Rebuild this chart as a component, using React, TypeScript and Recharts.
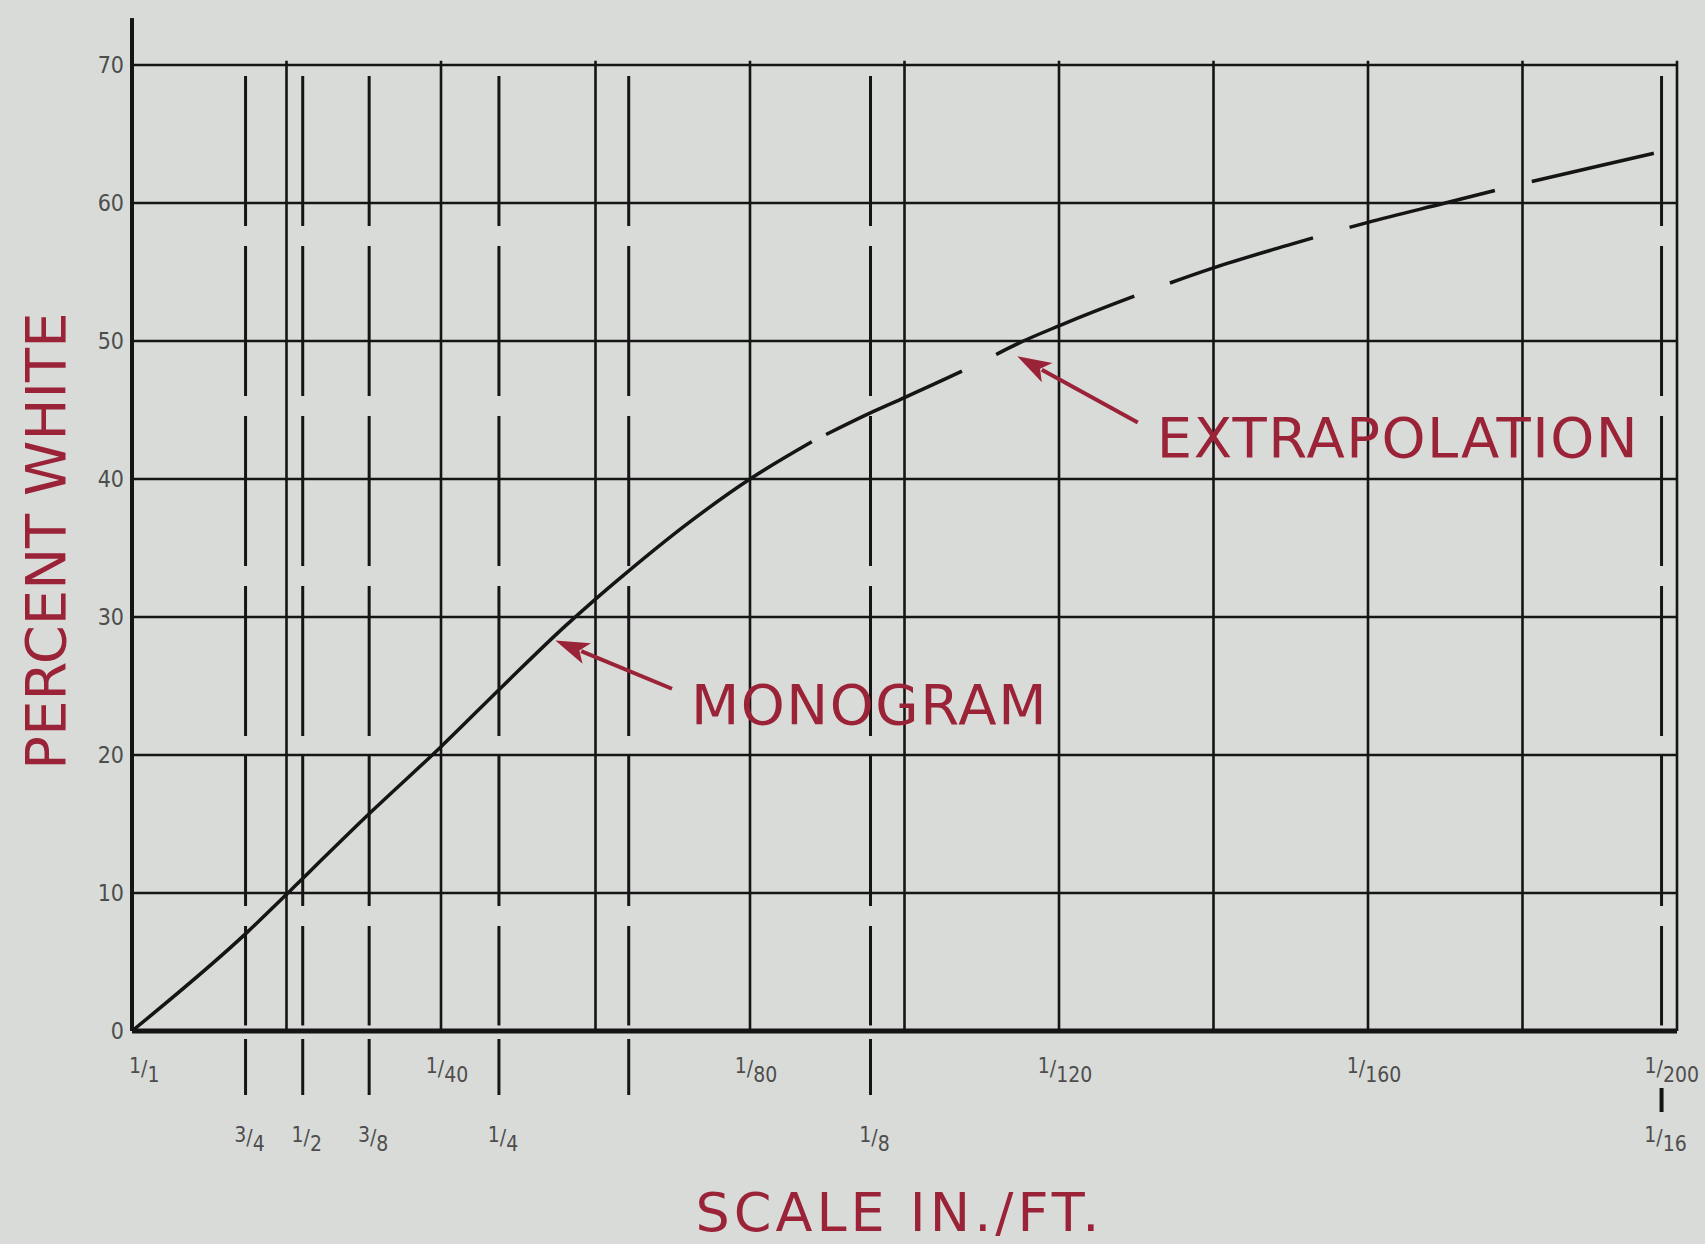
import { CartesianGrid, Line, LineChart, ReferenceLine, XAxis, YAxis } from "recharts";

// ratio scale ticks (1/N) along the bottom
const RATIO_TICKS = [0, 40, 80, 120, 160, 200];
const RATIO_DENOMS = ["1", "40", "80", "120", "160", "200"];
const GRID_X = [20, 40, 60, 80, 100, 120, 140, 160, 180, 200];
const PERCENT_TICKS = [0, 10, 20, 30, 40, 50, 60, 70];

// architectural scales (in./ft.) drawn as dashed verticals
const INCH_POS = [14.7, 22.1, 30.7, 47.5, 64.3, 95.6, 198];
const INCH_NUMS = ["3", "1", "3", "1", "", "1", "1"];
const INCH_DENS = ["4", "2", "8", "4", "", "8", "16"];

// measured curve (solid) and extrapolated part (dashed)
const MONO_X = [0, 15, 20, 22, 31, 40, 48, 56, 60, 64, 72, 80, 88];
const MONO_Y = [0, 7.2, 9.9, 11.0, 15.9, 20.6, 25.0, 29.3, 31.3, 33.2, 36.8, 40, 42.7];
const EXTRAP_X = [88, 96, 100, 110, 115, 120, 130, 140, 150, 160, 170, 180, 190, 197];
const EXTRAP_Y = [42.7, 44.9, 45.9, 48.5, 49.9, 51.1, 53.3, 55.3, 57.0, 58.6, 60.0, 61.4, 62.7, 63.6];

// annotation arrows: tail -> tip, in data units
const MONO_ARROW = [{ x: 69.9, y: 24.8 }, { x: 54.8, y: 28.3 }];
const EXTRAP_ARROW = [{ x: 130.2, y: 44.1 }, { x: 114.6, y: 48.9 }];

const INK = "#151515";
const RED = "#9a2338";
const GRAY = "#4d4d4d";
const TITLE_FONT = "'DejaVu Sans', sans-serif";
const NUM_FONT = "'Liberation Sans Narrow', 'DejaVu Sans Condensed', 'DejaVu Sans', sans-serif";

const monoData = MONO_X.map((x, i) => ({ x, y: MONO_Y[i] }));
const extrapData = EXTRAP_X.map((x, i) => ({ x, y: EXTRAP_Y[i] }));
const allTicks = [...RATIO_TICKS, ...INCH_POS].sort((a, b) => a - b);

function Frac({ x, y, num, den, anchor }: { x: number; y: number; num: string; den: string; anchor: string }) {
  return (
    <text x={x} y={y} textAnchor={anchor} fontSize={21} fontFamily={NUM_FONT} fill={GRAY}>
      <tspan>{num}</tspan>
      <tspan dy={3}>/</tspan>
      <tspan dy={6}>{den}</tspan>
    </text>
  );
}

function ScaleTick(props: any) {
  const { x, y, payload } = props;
  const v = payload.value;
  const ri = RATIO_TICKS.indexOf(v);
  if (ri >= 0) {
    if (v === 0) return <Frac x={x - 3} y={y + 42} num="1" den={RATIO_DENOMS[ri]} anchor="start" />;
    if (v === 200) return <Frac x={x + 22} y={y + 42} num="1" den={RATIO_DENOMS[ri]} anchor="end" />;
    return <Frac x={x + 6} y={y + 42} num="1" den={RATIO_DENOMS[ri]} anchor="middle" />;
  }
  const ii = INCH_POS.indexOf(v);
  if (ii < 0) return null;
  const last = v > 190;
  return (
    <g>
      <line x1={x} x2={x} y1={y + (last ? 57 : 8)} y2={y + (last ? 81 : 64)} stroke={INK} strokeWidth={last ? 4 : 3} />
      {INCH_NUMS[ii] && <Frac x={x + 4} y={y + 111} num={INCH_NUMS[ii]} den={INCH_DENS[ii]} anchor="middle" />}
    </g>
  );
}

const arrowShape = (text: string) => (props: any) => {
  const { x1, y1, x2, y2 } = props;
  const a = Math.atan2(y2 - y1, x2 - x1);
  const c = Math.cos(a);
  const s = Math.sin(a);
  const bx = x2 - 34 * c;
  const by = y2 - 34 * s;
  const pts = [
    [x2, y2],
    [bx + 11 * s, by - 11 * c],
    [bx + 8 * c, by + 8 * s],
    [bx - 11 * s, by + 11 * c],
  ];
  return (
    <g>
      <line x1={x1} y1={y1} x2={bx + 6 * c} y2={by + 6 * s} stroke={RED} strokeWidth={4} />
      <polygon points={pts.map((p) => p.join(",")).join(" ")} fill={RED} />
      <text x={x1 + 19} y={y1 + 35} fontSize={56} letterSpacing={1.5} fontFamily={TITLE_FONT} fill={RED}>
        {text}
      </text>
    </g>
  );
};

export default function App() {
  return (
    <div
      style={{
        position: "absolute",
        left: 0,
        top: 0,
        width: 1705,
        height: 1244,
        background: "#d9dbd8",
        overflow: "hidden",
      }}
    >
      <LineChart width={1705} height={1244} margin={{ top: 65, right: 28, left: 72, bottom: 183 }}>
        <CartesianGrid vertical={false} stroke={INK} strokeWidth={2.6} />
        <XAxis
          type="number"
          dataKey="x"
          domain={[0, 200]}
          ticks={allTicks}
          interval={0}
          height={30}
          tickLine={false}
          tickSize={0}
          tickMargin={0}
          axisLine={{ stroke: INK, strokeWidth: 5 }}
          tick={<ScaleTick />}
          label={{
            content: ({ viewBox }: any) => (
              <text
                x={viewBox.x + viewBox.width / 2 - 5}
                y={viewBox.y + 200}
                textAnchor="middle"
                fontSize={54}
                letterSpacing={4}
                fontFamily={TITLE_FONT}
                fill={RED}
              >
                SCALE IN./FT.
              </text>
            ),
          }}
        />
        <YAxis
          type="number"
          domain={[0, 70]}
          ticks={PERCENT_TICKS}
          interval={0}
          width={60}
          tickLine={false}
          tickSize={0}
          tickMargin={8}
          axisLine={{ stroke: INK, strokeWidth: 4 }}
          tick={{ fill: GRAY, fontSize: 23, fontFamily: NUM_FONT }}
          label={{
            content: ({ viewBox }: any) => (
              <text
                transform={`translate(${viewBox.x - 7},${viewBox.y + viewBox.height / 2 - 7}) rotate(-90)`}
                textAnchor="middle"
                fontSize={56}
                fontFamily={TITLE_FONT}
                fill={RED}
              >
                PERCENT WHITE
              </text>
            ),
          }}
        />

        {/* axis line runs a little past the 70 grid line */}
        <ReferenceLine
          segment={[{ x: 0, y: 70 }, { x: 0, y: 73.4 }]}
          stroke={INK}
          strokeWidth={4}
          ifOverflow="visible"
        />

        {GRID_X.map((v) => (
          <ReferenceLine
            key={`g${v}`}
            segment={[{ x: v, y: 0 }, { x: v, y: 70.3 }]}
            stroke={INK}
            strokeWidth={2.6}
            ifOverflow="visible"
          />
        ))}

        {INCH_POS.map((v) => (
          <ReferenceLine
            key={`i${v}`}
            segment={[{ x: v, y: 69.2 }, { x: v, y: 0.4 }]}
            stroke={INK}
            strokeWidth={3}
            strokeDasharray="150 20"
            ifOverflow="visible"
          />
        ))}

        <Line
          data={monoData}
          dataKey="y"
          type="monotone"
          stroke={INK}
          strokeWidth={3.5}
          dot={false}
          activeDot={false}
          isAnimationActive={false}
        />
        <Line
          data={extrapData}
          dataKey="y"
          type="monotone"
          stroke={INK}
          strokeWidth={3.5}
          strokeDasharray="0 16 150 22"
          dot={false}
          activeDot={false}
          isAnimationActive={false}
        />

        <ReferenceLine segment={MONO_ARROW} ifOverflow="visible" shape={arrowShape("MONOGRAM")} />
        <ReferenceLine segment={EXTRAP_ARROW} ifOverflow="visible" shape={arrowShape("EXTRAPOLATION")} />
      </LineChart>
    </div>
  );
}
